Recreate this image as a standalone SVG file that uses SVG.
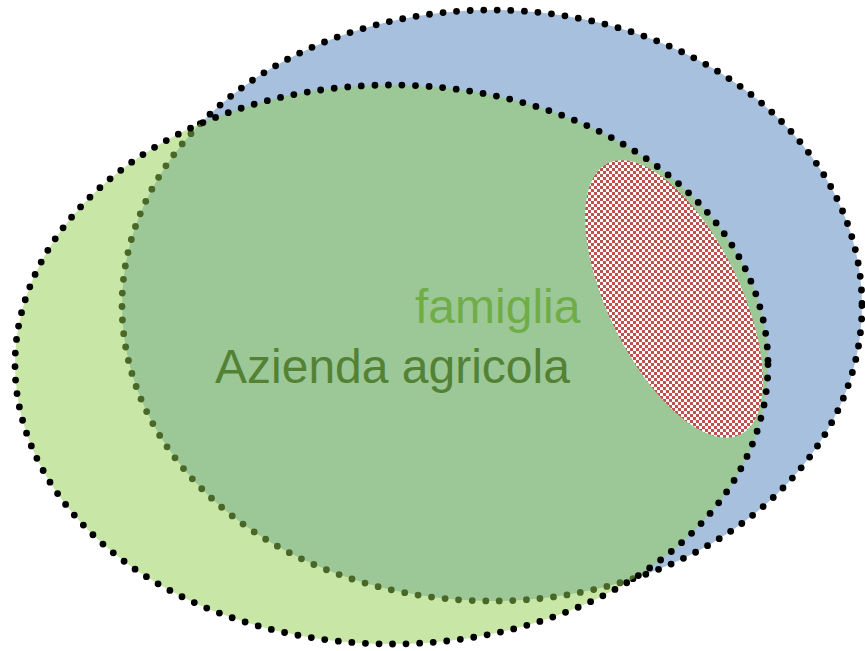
<svg xmlns="http://www.w3.org/2000/svg" width="865" height="651" viewBox="0 0 865 651">
  <defs>
    <pattern id="checks" x="0" y="0" width="6" height="6" patternUnits="userSpaceOnUse" patternTransform="rotate(-64 674 299)">
      <rect width="6" height="6" fill="#ffffff"/>
      <rect width="3" height="3" fill="#c0504d"/>
      <rect x="3" y="3" width="3" height="3" fill="#c0504d"/>
    </pattern>
  </defs>
  <style>
    .dotted { fill: none; stroke: #000000; stroke-width: 6.8; stroke-linecap: round; stroke-dasharray: 0 13.6; }
    .label { font-family: "Liberation Sans", Arial, sans-serif; font-size: 48px; }
  </style>
  <rect width="865" height="651" fill="#ffffff"/>
  <g id="blue-set">
    <ellipse cx="492" cy="305.5" rx="370" ry="295.5" fill="#4f81bd" fill-opacity="0.5"/>
    <ellipse class="dotted" cx="492" cy="305.5" rx="370" ry="295.5"/>
  </g>
  <g id="green-set">
    <ellipse cx="391.5" cy="364.5" rx="376.5" ry="279.5" fill="#92d050" fill-opacity="0.5"/>
    <ellipse class="dotted" cx="391.5" cy="364.5" rx="376.5" ry="279.5"/>
  </g>
  <g id="red-set">
    <ellipse cx="674" cy="299" rx="151" ry="66" transform="rotate(64 674 299)" fill="url(#checks)"/>
  </g>
  <g id="labels">
    <text class="label" x="415" y="323" fill="#70ad47">famiglia</text>
    <text class="label" x="215" y="383" fill="#548235">Azienda agricola</text>
  </g>
</svg>
